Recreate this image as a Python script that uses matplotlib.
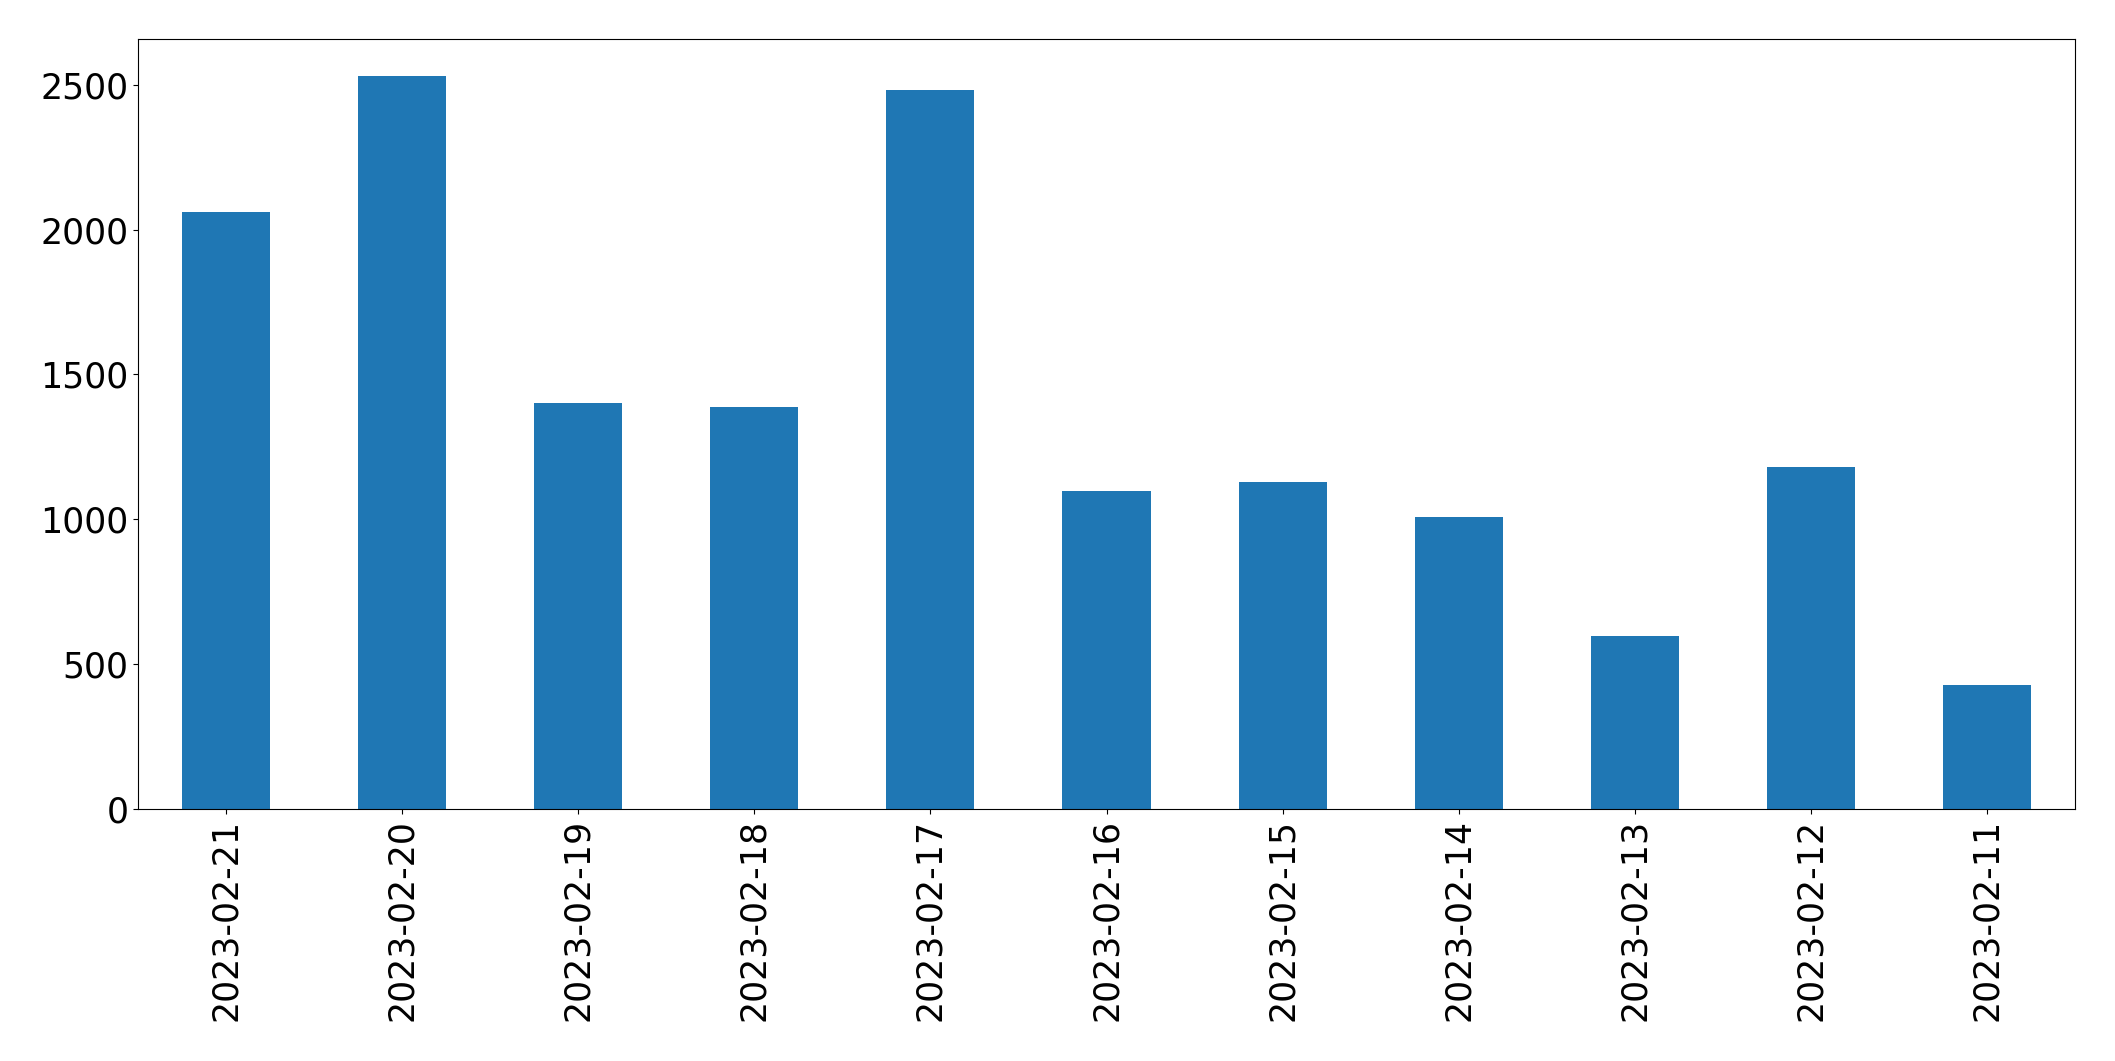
import matplotlib
matplotlib.use("Agg")
import matplotlib.pyplot as plt
import numpy as np

dates = ["2023-02-21", "2023-02-20", "2023-02-19", "2023-02-18", "2023-02-17",
         "2023-02-16", "2023-02-15", "2023-02-14", "2023-02-13", "2023-02-12",
         "2023-02-11"]
counts = [2062, 2531, 1402, 1388, 2483, 1096, 1128, 1008, 597, 1179, 429]

fig = plt.figure(figsize=(21.15, 10.61), dpi=100)
ax = fig.add_axes([138 / 2115, 1 - 809 / 1061, (2075 - 138) / 2115, (809 - 39) / 1061])
x = np.arange(len(dates))
ax.bar(x, counts, width=0.5, color="#1f77b4")
ax.set_xlim(-0.5, len(dates) - 0.5)
ax.set_xticks(x)
ax.set_xticklabels(dates, rotation=90)
ax.tick_params(labelsize=25)
fig.savefig("out.png", dpi=100)
